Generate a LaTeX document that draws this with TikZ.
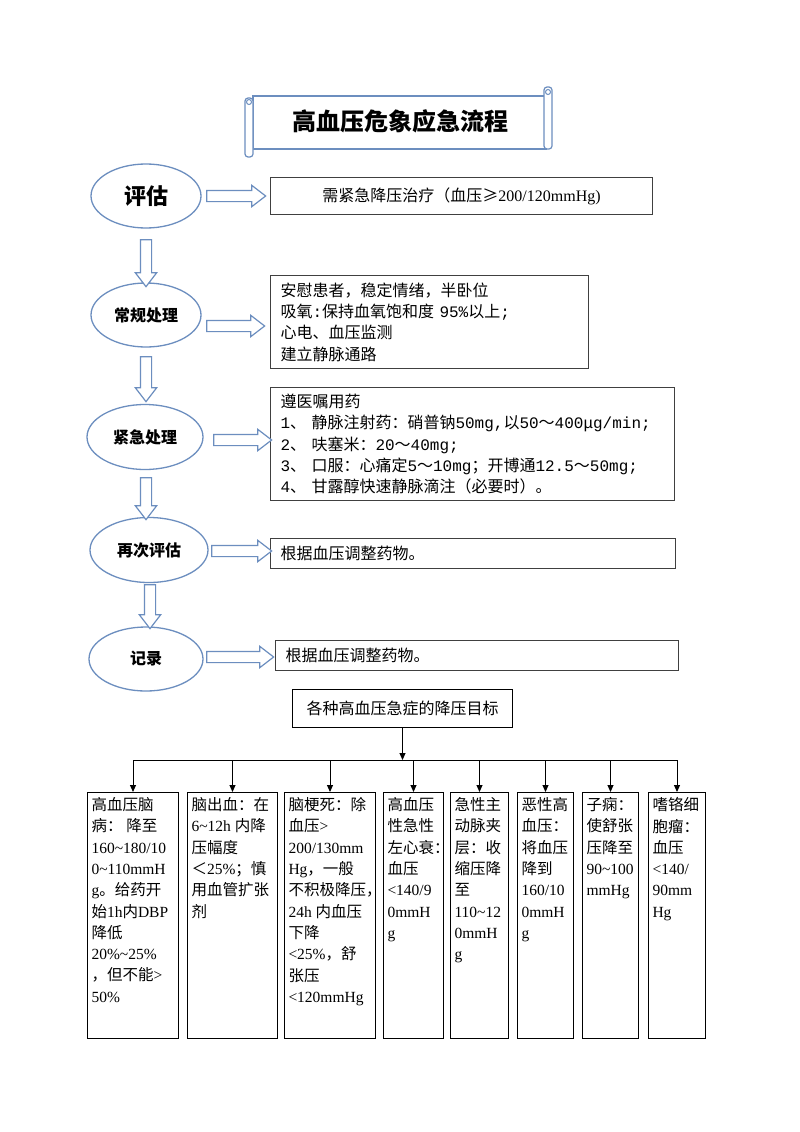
\documentclass[tikz,border=0pt]{standalone}
\usepackage{fontspec}
\setmainfont{Liberation Serif}
\setmonofont{Liberation Mono}
\newfontfamily\cjkfont{Noto Sans CJK SC}
\usetikzlibrary{arrows.meta,shapes.geometric,shapes.arrows}

\definecolor{stageblue}{RGB}{108,142,191}

\newcommand\latinfont{\rmfamily}
\XeTeXinterchartokenstate=1
\newXeTeXintercharclass\cjkclass
\newcount\cjkchar
\cjkchar="3000
\loop\ifnum\cjkchar<"A000
	\XeTeXcharclass\cjkchar=\cjkclass
	\advance\cjkchar by 1
\repeat
\cjkchar="FF00
\loop\ifnum\cjkchar<"FFF0
	\XeTeXcharclass\cjkchar=\cjkclass
	\advance\cjkchar by 1
\repeat
\XeTeXcharclass"2265=\cjkclass
\XeTeXinterchartoks 0 \cjkclass={\cjkfont}
\XeTeXinterchartoks 4095 \cjkclass={\cjkfont}
\XeTeXinterchartoks \cjkclass 0={\latinfont}
\XeTeXinterchartoks \cjkclass 4095={\latinfont}

\newcommand\tld{\textasciitilde}
\newcommand\goaltext[2]{\begin{minipage}[t][236pt][t]{#1}#2\end{minipage}}

\begin{document}
\begin{tikzpicture}[x=1pt, y=-1pt, >={Triangle[length=7pt,width=6pt]},
	stage/.style={ellipse, draw=stageblue, line width=1.3pt, font=\bfseries\fontsize{16}{20}\selectfont},
	rarrow/.style={single arrow, draw=stageblue, fill=white, line width=1.2pt, inner sep=5pt, minimum width=20pt, single arrow head extend=5pt, single arrow tip angle=75},
	info/.style={draw=black!75, line width=1.2pt, anchor=north west, inner xsep=10pt, align=left, font=\fontsize{16}{21.3}\selectfont},
	monoinfo/.style={info, font=\def\latinfont{\ttfamily}\ttfamily\fontsize{16}{21.4}\selectfont},
	goal/.style={draw, line width=1pt, anchor=north west, inner xsep=4pt, inner ysep=5pt, font=\fontsize{15.5}{21.3}\selectfont}]
	\useasboundingbox (0, 0) rectangle (800, 1132);
	\fill[white] (0, 0) rectangle (800, 1132);

	\draw[stageblue, line width=1.2pt, fill=white] (253, 96) rectangle (546, 149);
	\draw[stageblue, line width=1.2pt, fill=white, rounded corners=3pt] (245, 98) rectangle (253, 157);
	\draw[stageblue, line width=1.2pt, fill=white, rounded corners=3pt] (544, 87) rectangle (552, 149);
	\draw[stageblue, line width=1pt] (249, 102) circle [radius=2.5];
	\draw[stageblue, line width=1pt] (548, 92) circle [radius=2.5];
	\node[font=\bfseries\fontsize{24}{28}\selectfont] (title) at (400, 121) {高血压危象应急流程};

	\node[stage, minimum width=110pt, minimum height=64pt, font=\bfseries\fontsize{22}{26}\selectfont] (e1) at (146, 196) {评估};
	\node[stage, minimum width=110pt, minimum height=64pt] (e2) at (146, 315) {常规处理};
	\node[stage, minimum width=116pt, minimum height=65pt] (e3) at (145, 437) {紧急处理};
	\node[stage, minimum width=118pt, minimum height=65pt] (e4) at (149, 550) {再次评估};
	\node[stage, minimum width=114pt, minimum height=64pt] (e5) at (146, 659) {记录};

	\node[info, minimum height=37pt, text width=362pt, align=center] (b1) at (270, 177) {需紧急降压治疗（血压≥200/120mmHg)};
	\node[monoinfo, minimum height=93pt, text width=298pt] (b2) at (270, 275) {安慰患者，稳定情绪，半卧位\\吸氧:保持血氧饱和度 95\%以上;\\心电、血压监测\\建立静脉通路};
	\node[monoinfo, minimum height=113pt, text width=384pt] (b3) at (270, 387) {遵医嘱用药\\1、 静脉注射药：硝普钠50mg,以50～400μg/min;\\2、 呋塞米：20～40mg;\\3、 口服：心痛定5～10mg；开博通12.5～50mg;\\4、 甘露醇快速静脉滴注（必要时）。};
	\node[info, minimum height=30pt, text width=385pt] (b4) at (270, 538) {根据血压调整药物。};
	\node[info, minimum height=30pt, text width=383pt] (b5) at (275, 640) {根据血压调整药物。};

	\node[rarrow, minimum height=59pt] (a1) at (232.5, 196) {};
	\node[rarrow, minimum height=58pt] (a2) at (232, 326) {};
	\node[rarrow, minimum height=58pt] (a3) at (239, 440) {};
	\node[rarrow, minimum height=60pt] (a4) at (238, 551) {};
	\node[rarrow, minimum height=67pt] (a5) at (236.5, 657) {};
	\node[rarrow, rotate=-90, minimum height=47pt] (d1) at (146, 259.5) {};
	\node[rarrow, rotate=-90, minimum height=45pt] (d2) at (146, 375.5) {};
	\node[rarrow, rotate=-90, minimum height=42pt] (d3) at (146, 495) {};
	\node[rarrow, rotate=-90, minimum height=44pt] (d4) at (150, 603) {};

	\node[draw, line width=1pt, anchor=north west, minimum width=220pt, minimum height=38pt, font=\fontsize{16}{20}\selectfont] (t) at (292, 689) {各种高血压急症的降压目标};

	\node[goal] (g1) at (87, 792) {\goaltext{83pt}{高血压脑\\病： 降至\\160\tld180/10\\0\tld110mmH\\g。给药开\\始1h内DBP\\降低\\20\%\tld25\%\\，但不能>\\50\%}};
	\node[goal] (g2) at (187, 792) {\goaltext{82pt}{脑出血：在\\6\tld12h 内降\\压幅度\\＜25\%；慎\\用血管扩张\\剂}};
	\node[goal] (g3) at (284, 792) {\goaltext{83pt}{脑梗死：除\\血压>\\200/130mm\\Hg，一般\\不积极降压，\\24h 内血压\\下降\\<25\%，舒\\张压\\<120mmHg}};
	\node[goal] (g4) at (383, 792) {\goaltext{52pt}{高血压\\性急性\\左心衰：\\血压\\<140/9\\0mmH\\g}};
	\node[goal] (g5) at (450, 792) {\goaltext{50pt}{急性主\\动脉夹\\层：收\\缩压降\\至\\110\tld12\\0mmH\\g}};
	\node[goal] (g6) at (517, 792) {\goaltext{48pt}{恶性高\\血压：\\将血压\\降到\\160/10\\0mmH\\g}};
	\node[goal] (g7) at (582, 792) {\goaltext{48pt}{子痫：\\使舒张\\压降至\\90\tld100\\mmHg}};
	\node[goal] (g8) at (648, 792) {\goaltext{49pt}{嗜铬细\\胞瘤：\\血压\\<140/\\90mm\\Hg}};

	\coordinate (bus) at (400, 760);
	\draw[->, line width=1pt] (t.south) -- (t.south |- bus);
	\draw[line width=1pt] (bus -| g1.north) -- (bus -| g8.north);
	\foreach \g in {g1, g2, g3, g4, g5, g6, g7, g8}
		\draw[->, line width=1pt] (bus -| \g.north) -- (\g.north);
\end{tikzpicture}
\end{document}
